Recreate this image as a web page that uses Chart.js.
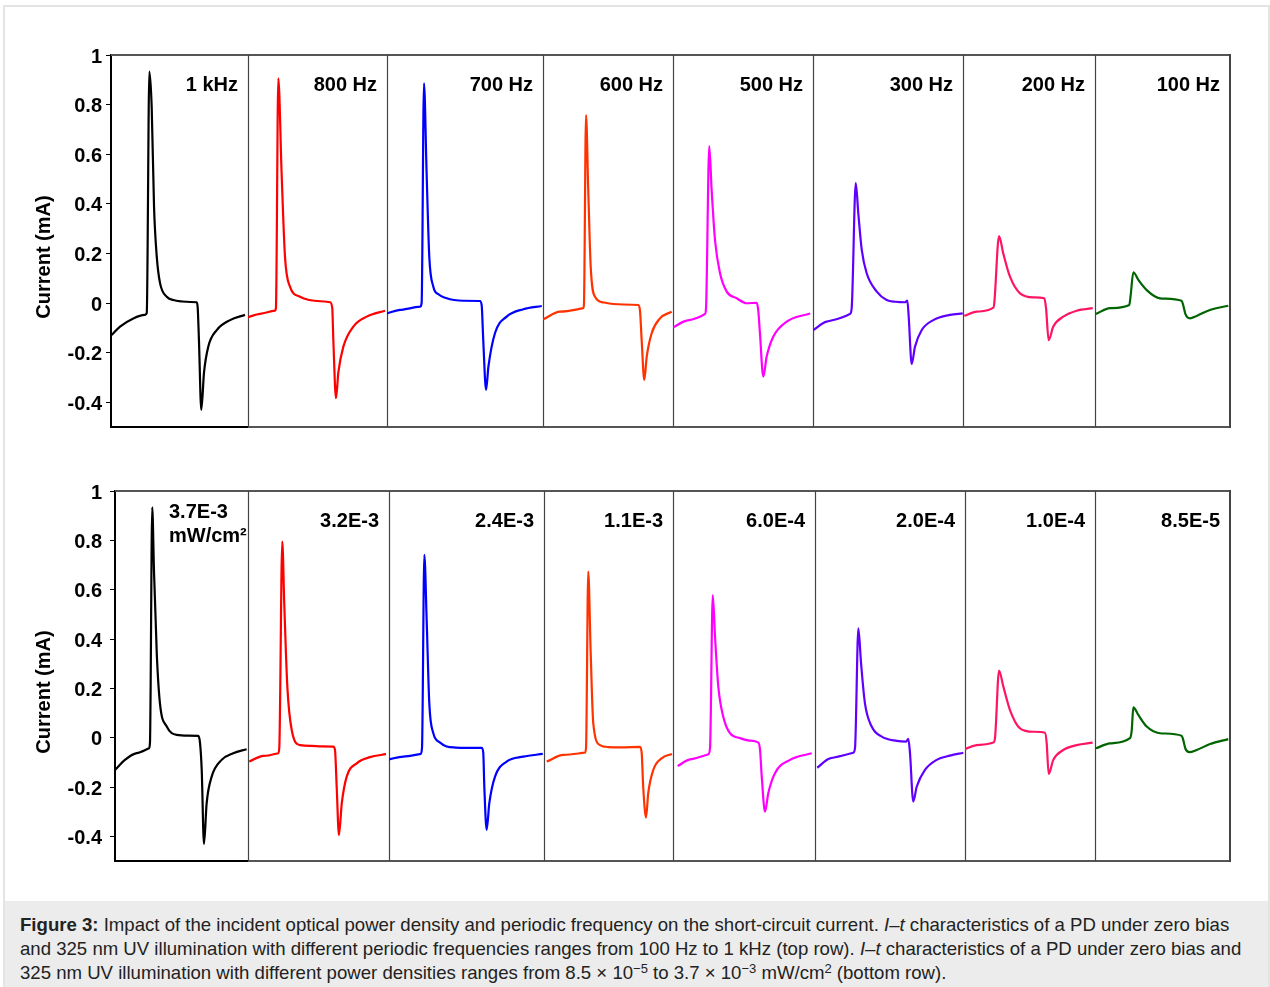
<!DOCTYPE html>
<html lang="en">
<head>
<meta charset="UTF-8">
<title>Figure 3 - I-t characteristics</title>
<script src="https://cdn.jsdelivr.net/npm/chart.js@4.4.0/dist/chart.umd.min.js"></script>
<style>
  body { margin: 0; background: #fff; }
  #fig { position: relative; width: 1270px; height: 987px; overflow: hidden; }
  #frame { position: absolute; left: 3px; top: 5px; width: 1263px; height: 990px; border: 2px solid #e4e4e4; }
  .panel { position: absolute; }
  #caption {
    position: absolute; left: 5px; top: 901px; width: 1263px; height: 86px;
    background: #ececec; box-sizing: border-box; padding: 12px 0 0 15px;
    font: 18.6px 'Liberation Sans', Arial, sans-serif; line-height: 24px; color: #222; white-space: nowrap;
  }
  #caption sup { font-size: 13px; line-height: 0; vertical-align: 6px; }
</style>
</head>
<body>
<div id="fig">
  <div id="frame"></div>
  <div id="caption"><b>Figure 3:</b> Impact of the incident optical power density and periodic frequency on the short-circuit current. <i>I</i>–<i>t</i> characteristics of a PD under zero bias<br>and 325 nm UV illumination with different periodic frequencies ranges from 100 Hz to 1 kHz (top row). <i>I</i>–<i>t</i> characteristics of a PD under zero bias and<br>325 nm UV illumination with different power densities ranges from 8.5 × 10<sup>−5</sup> to 3.7 × 10<sup>−3</sup> mW/cm<sup>2</sup> (bottom row).</div>
</div>

<script>
    // panel labels
    const topLabels = ['1 kHz', '800 Hz', '700 Hz', '600 Hz', '500 Hz', '300 Hz', '200 Hz', '100 Hz'];
    const bottomLabels = ['3.7E-3\nmW/cm²', '3.2E-3', '2.4E-3', '1.1E-3', '6.0E-4', '2.0E-4', '1.0E-4', '8.5E-5'];
    const yTicks = [1, 0.8, 0.6, 0.4, 0.2, 0, -0.2, -0.4];
    const traceColors = ['#000000', '#ff0000', '#0000ff', '#ff3300', '#ff00ff', '#5f00ff', '#ff1464', '#006400'];

    // traces: [time (% of window), current (mA)]
    // top row, frequencies
    const f1k = [[0.5,-0.129],[6.6,-0.095],[16.3,-0.062],[24.8,-0.048],[26.1,-0.04],[28,0.933],[29.7,0.79],[31.4,0.39],[33.4,0.187],[35.8,0.08],[40.7,0.025],[45.5,0.012],[52,0.006],[58,0.004],[62.6,0.003],[63.3,-0.02],[64.2,-0.15],[65.9,-0.431],[67.9,-0.28],[71,-0.176],[77.2,-0.109],[86.9,-0.069],[97.8,-0.048]];
    const f800 = [[0,-0.057],[8.6,-0.044],[19.4,-0.031],[20.1,-0.02],[21.8,0.906],[24.2,0.52],[26.6,0.187],[30.2,0.066],[37.4,0.025],[44,0.012],[52,0.007],[59,0.003],[60.6,-0.02],[61.4,-0.15],[63.3,-0.384],[65,-0.28],[68.6,-0.176],[75.8,-0.095],[85.4,-0.055],[98.6,-0.031]];
    const f700 = [[0,-0.042],[8.3,-0.028],[21.2,-0.015],[22.2,0],[23.7,0.886],[25.4,0.523],[27.1,0.187],[29.7,0.066],[33,0.035],[38.3,0.019],[43,0.012],[48.9,0.009],[59.6,0.008],[60.7,-0.01],[61.7,-0.15],[63.5,-0.35],[65,-0.257],[69.2,-0.122],[76.7,-0.055],[87.4,-0.025],[99.2,-0.012]];
    const f600 = [[0.2,-0.066],[13.1,-0.035],[31,-0.021],[31.5,-0.005],[33.1,0.758],[34.8,0.456],[36.7,0.146],[40,0.025],[47,0.002],[54.1,-0.004],[62,-0.006],[73.3,-0.008],[74.6,-0.03],[75.9,-0.15],[77.9,-0.31],[79.8,-0.216],[83.6,-0.122],[90,-0.062],[99,-0.035]];
    const f500 = [[0.2,-0.098],[9.8,-0.071],[22.9,-0.044],[23.6,-0.02],[25.9,0.633],[27.6,0.456],[30,0.254],[33.6,0.12],[38.4,0.046],[45.5,0.019],[52.6,-0.001],[59.8,0.001],[60.9,-0.03],[62.1,-0.122],[64.5,-0.297],[66.9,-0.216],[71.6,-0.136],[81.2,-0.075],[97.9,-0.042]];
    const f300 = [[0.2,-0.109],[9.1,-0.075],[24.7,-0.044],[25.8,-0.02],[28.5,0.483],[30.2,0.362],[32.5,0.214],[35.8,0.12],[42.5,0.046],[49.1,0.012],[55,0.005],[61.3,0.003],[62.9,0.01],[63.8,-0.055],[65.8,-0.246],[68,-0.176],[72.5,-0.109],[80.2,-0.069],[91.3,-0.048],[99.8,-0.042]];
    const f200 = [[1,-0.052],[10.4,-0.035],[23,-0.019],[23.7,0],[27.3,0.27],[30.5,0.2],[35.6,0.106],[43.2,0.039],[53.3,0.023],[61.6,0.019],[62.9,-0.02],[64.9,-0.15],[68.4,-0.095],[76,-0.055],[86.1,-0.031],[98.3,-0.021]];
    const f100 = [[0.7,-0.044],[11.1,-0.021],[25.4,-0.008],[26.4,0.03],[28.4,0.124],[32.1,0.093],[38.3,0.052],[48.1,0.019],[64.2,0.009],[65.4,-0.01],[67,-0.045],[70.4,-0.062],[75.3,-0.052],[85.2,-0.028],[98.7,-0.011]];

    // bottom row, power densities (mW/cm2)
    const p37 = [[0,-0.131],[7.5,-0.09],[16.3,-0.063],[25.6,-0.043],[26.3,-0.02],[28,0.934],[29.3,0.68],[31.4,0.342],[33.8,0.139],[38.9,0.045],[46.4,0.011],[55,0.008],[62.6,0.007],[63.9,-0.02],[65.2,-0.131],[66.9,-0.431],[68.9,-0.266],[72.7,-0.158],[80.2,-0.09],[88.9,-0.063],[99,-0.047]];
    const p32 = [[0.9,-0.097],[10.9,-0.074],[21.5,-0.063],[22.2,-0.04],[24.3,0.795],[25.7,0.545],[27.9,0.207],[31,0.031],[36.9,-0.03],[45,-0.033],[52,-0.035],[60.5,-0.036],[61.7,-0.05],[62.9,-0.199],[64.5,-0.394],[66.5,-0.266],[70,-0.158],[77.1,-0.104],[86.5,-0.079],[97.9,-0.067]];
    const p24 = [[0,-0.088],[9.2,-0.077],[20.5,-0.066],[21.3,-0.04],[22.8,0.741],[24.3,0.477],[26,0.139],[28.6,0.018],[33,-0.02],[37.2,-0.036],[43,-0.04],[50.1,-0.041],[59.8,-0.041],[60.8,-0.06],[61.5,-0.199],[63,-0.374],[64.7,-0.266],[68.4,-0.158],[75.9,-0.097],[86.6,-0.077],[99.2,-0.066]];
    const p11 = [[2.1,-0.097],[15,-0.07],[31.8,-0.061],[32.6,-0.04],[34.3,0.673],[36.2,0.342],[38.2,0.058],[43.4,-0.03],[50,-0.038],[60,-0.039],[74.4,-0.037],[75.7,-0.06],[76.9,-0.199],[79.1,-0.324],[80.8,-0.225],[84.7,-0.131],[91.2,-0.084],[99.2,-0.066]];
    const p060 = [[3.3,-0.115],[12,-0.088],[24.9,-0.067],[26.1,-0.04],[28,0.578],[29.6,0.409],[31.9,0.207],[35.4,0.085],[40.1,0.018],[47.2,-0.002],[54,-0.012],[60.1,-0.02],[61.3,-0.05],[62.5,-0.158],[64.8,-0.3],[67.1,-0.225],[71.8,-0.144],[82.4,-0.09],[97.7,-0.063]];
    const p020 = [[1.5,-0.122],[10,-0.084],[25.5,-0.061],[26.7,-0.04],[28.9,0.443],[30.7,0.302],[33.3,0.139],[37.8,0.045],[44.5,0.004],[54.5,-0.013],[60.7,-0.016],[62.2,-0.005],[63.3,-0.06],[65.5,-0.259],[67.8,-0.199],[73.3,-0.131],[81.1,-0.09],[90,-0.073],[98.9,-0.061]];
    const p010 = [[0,-0.047],[9,-0.03],[21.8,-0.02],[23.1,0],[26.2,0.272],[29.5,0.207],[34.6,0.112],[42.3,0.038],[52.5,0.024],[61.5,0.02],[62.8,-0.02],[64.4,-0.147],[67.9,-0.09],[75.6,-0.05],[85.9,-0.03],[98.2,-0.02]];
    const p0085 = [[0.7,-0.043],[11.1,-0.023],[25.9,-0.002],[27.2,0.03],[28.4,0.123],[32.1,0.092],[38.3,0.045],[48.1,0.018],[64.2,0.008],[65.4,-0.01],[67,-0.045],[69.9,-0.059],[75.3,-0.05],[85.2,-0.026],[98.7,-0.006]];

    const topTraces = [f1k, f800, f700, f600, f500, f300, f200, f100];
    const bottomTraces = [p37, p32, p24, p11, p060, p020, p010, p0085];

    // layout (page pixels)
    const PAD = 24;
    const AXIS_LEFT = 20;
    const FONT = "'Liberation Sans', Arial, sans-serif";
    const rows = [
        { labels: topLabels, traces: topTraces, top: 55, bottom: 427, tickPad: 4,
          edges: [111, 248, 387, 543, 673, 813, 963, 1095, 1230] },
        { labels: bottomLabels, traces: bottomTraces, top: 491, bottom: 861, tickPad: 8,
          edges: [115, 248, 389, 544, 673, 815, 965, 1095, 1230] }
    ];

    Chart.defaults.font.family = FONT;
    Chart.defaults.color = '#000';

    function hline(ctx, x1, x2, y) { ctx.beginPath(); ctx.moveTo(x1, y); ctx.lineTo(x2, y); ctx.stroke(); }
    function vline(ctx, x, y1, y2) { ctx.beginPath(); ctx.moveTo(x, y1); ctx.lineTo(x, y2); ctx.stroke(); }

    const panelDecor = {
        id: 'panelDecor',
        beforeDatasetsDraw(chart, args, opts) {
            const { ctx, chartArea: a } = chart;
            ctx.save();
            ctx.lineWidth = 2;
            ctx.strokeStyle = '#555';
            hline(ctx, a.left, a.right + (opts.last ? 1 : 0), a.top);
            ctx.strokeStyle = opts.first ? '#000' : '#555';
            hline(ctx, a.left, a.right + (opts.last ? 1 : 0), a.bottom);
            ctx.strokeStyle = '#444';
            if (!opts.first) {
                ctx.lineWidth = 1.2;
                vline(ctx, a.left + 0.5, a.top, a.bottom);
            }
            if (opts.last) {
                ctx.lineWidth = 2;
                vline(ctx, a.right, a.top - 1, a.bottom + 1);
            }
            ctx.restore();
        },
        afterDraw(chart, args, opts) {
            const { ctx, chartArea: a } = chart;
            ctx.save();
            ctx.fillStyle = '#000';
            ctx.font = 'bold 20px ' + FONT;
            ctx.textBaseline = 'middle';
            const lines = opts.label.split('\n');
            if (lines.length > 1) {
                ctx.textAlign = 'left';
                lines.forEach((s, k) => ctx.fillText(s, a.left + 54, a.top + 21 + k * 24));
            } else {
                ctx.textAlign = 'right';
                ctx.fillText(opts.label, a.right - 10, a.top + 30);
            }
            if (opts.first) {
                ctx.translate(44 - AXIS_LEFT, (a.top + a.bottom) / 2 + 16);
                ctx.rotate(-Math.PI / 2);
                ctx.textAlign = 'center';
                ctx.fillText('Current (mA)', 0, 0);
            }
            ctx.restore();
        }
    };

    function renderPanel(fig, row, i) {
        const first = i === 0;
        const last = i === row.edges.length - 2;
        const left = first ? AXIS_LEFT : row.edges[i] - PAD;
        const width = row.edges[i + 1] + PAD - left;
        const div = document.createElement('div');
        div.className = 'panel';
        div.style.left = left + 'px';
        div.style.top = (row.top - PAD) + 'px';
        div.style.width = width + 'px';
        div.style.height = (row.bottom - row.top + 2 * PAD) + 'px';
        const canvas = document.createElement('canvas');
        div.appendChild(canvas);
        fig.appendChild(div);

        const yAxis = {
            type: 'linear', min: -0.5, max: 1,
            display: first
        };
        if (first) {
            Object.assign(yAxis, {
                afterFit: s => { s.width = row.edges[0] - AXIS_LEFT; },
                afterBuildTicks: s => { s.ticks = yTicks.map(v => ({ value: v })); },
                border: { display: true, color: '#000', width: 2 },
                grid: { drawOnChartArea: false, drawTicks: true, tickLength: 5, color: '#000', lineWidth: 1 },
                ticks: {
                    padding: row.tickPad,
                    labelOffset: 2,
                    font: { size: 20, weight: 'bold' },
                    color: '#000',
                    callback: v => String(v)
                }
            });
        }

        return new Chart(canvas, {
            type: 'line',
            data: {
                datasets: [{
                    data: row.traces[i].map(([t, c]) => ({ x: t, y: c })),
                    borderColor: traceColors[i],
                    borderWidth: 2.2,
                    pointRadius: 0,
                    fill: false,
                    cubicInterpolationMode: 'monotone'
                }]
            },
            options: {
                responsive: true,
                maintainAspectRatio: false,
                animation: false,
                events: [],
                layout: { padding: { left: first ? 0 : PAD, right: PAD, top: PAD, bottom: PAD } },
                scales: {
                    x: { type: 'linear', min: 0, max: 100, display: false },
                    y: yAxis
                },
                plugins: {
                    legend: { display: false },
                    tooltip: { enabled: false },
                    panelDecor: { first, last, label: row.labels[i] }
                }
            },
            plugins: [panelDecor]
        });
    }

    const fig = document.getElementById('fig');
    rows.forEach(row => row.labels.forEach((_, i) => renderPanel(fig, row, i)));
</script>
</body>
</html>
